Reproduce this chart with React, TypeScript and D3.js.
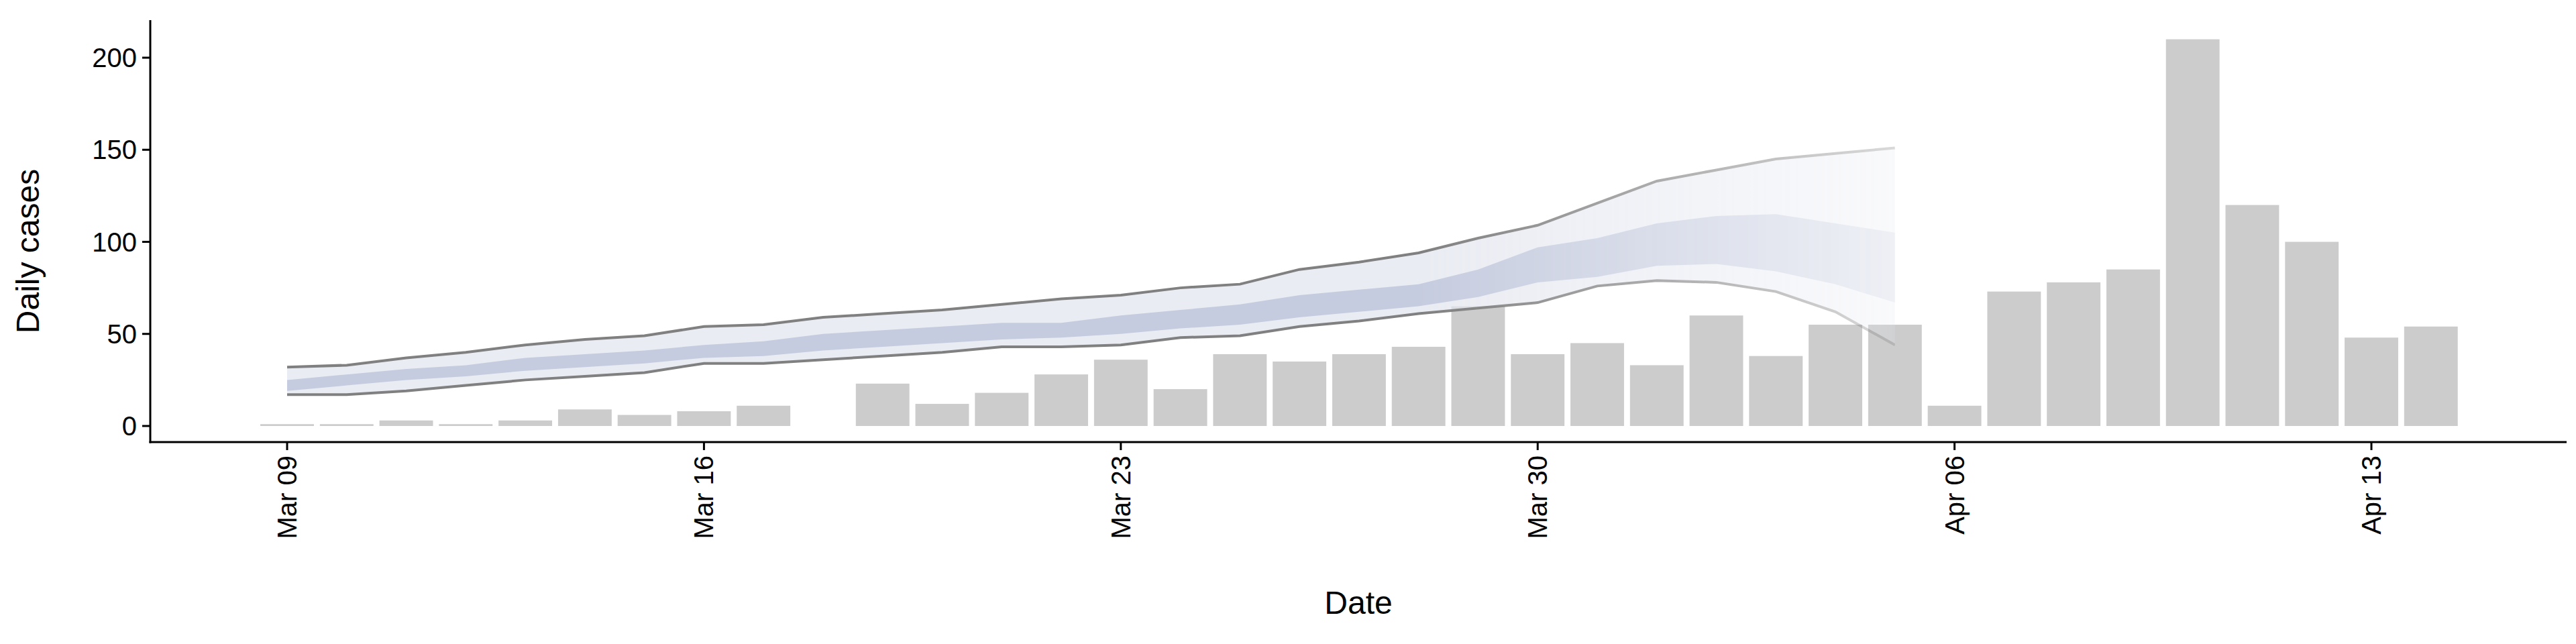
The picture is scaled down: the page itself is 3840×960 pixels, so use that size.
import React from 'react';
import * as d3 from 'd3';

const caseDates = d3.timeDays(new Date(2020, 2, 9), new Date(2020, 3, 15));
const dailyCases = [1, 1, 3, 1, 3, 9, 6, 8, 11, 0, 23, 12, 18, 28, 36, 20, 39, 35, 39, 43, 65, 39, 45, 33, 60, 38, 55, 55, 11, 73, 78, 85, 210, 120, 100, 48, 54];

const bandDates = d3.timeDays(new Date(2020, 2, 9), new Date(2020, 3, 6));
const outerHigh = [32, 33, 37, 40, 44, 47, 49, 54, 55, 59, 61, 63, 66, 69, 71, 75, 77, 85, 89, 94, 102, 109, 121, 133, 139, 145, 148, 151];
const outerLow = [17, 17, 19, 22, 25, 27, 29, 34, 34, 36, 38, 40, 43, 43, 44, 48, 49, 54, 57, 61, 64, 67, 76, 79, 78, 73, 62, 44];
const innerHigh = [25, 28, 31, 33, 37, 39, 41, 44, 46, 50, 52, 54, 56, 56, 60, 63, 66, 71, 74, 77, 85, 97, 102, 110, 114, 115, 110, 105];
const innerLow = [19, 22, 25, 27, 30, 32, 34, 37, 38, 41, 43, 45, 47, 48, 50, 53, 55, 59, 62, 65, 70, 78, 81, 87, 88, 84, 77, 67];

const yTicks = [0, 50, 100, 150, 200];
const xTicks = [new Date(2020, 2, 9), new Date(2020, 2, 16), new Date(2020, 2, 23), new Date(2020, 2, 30), new Date(2020, 3, 6), new Date(2020, 3, 13)];

const W = 3840, H = 960;
const left = 224, right = 3826, top = 30, axisY = 659;

export default function App() {
  const x = d3.scaleTime().domain([new Date(2020, 2, 9), new Date(2020, 3, 13)]).range([428, 3535]);
  const day = x(new Date(2020, 2, 10)) - x(new Date(2020, 2, 9));
  const y = d3.scaleLinear().domain([0, 200]).range([635, 86]);
  const font = "'Liberation Sans', Arial, sans-serif";

  const area = (lo: number[], hi: number[]) =>
    d3.area<Date>().x(d => x(d)).y0((_, i) => y(lo[i])).y1((_, i) => y(hi[i]))(bandDates) || '';
  const line = (v: number[]) => d3.line<Date>().x(d => x(d)).y((_, i) => y(v[i]))(bandDates) || '';
  const fadeStart = (x(new Date(2020, 2, 28)) - x(bandDates[0])) / (x(bandDates[27]) - x(bandDates[0]));

  return (
    <svg width={W} height={H} style={{ display: 'block', position: 'absolute', left: 0, top: 0 }}>
      <defs>
        <linearGradient id="fade" gradientUnits="userSpaceOnUse" x1={x(bandDates[0])} x2={x(bandDates[27])} y1={0} y2={0}>
          <stop offset="0" stopColor="white" stopOpacity={1} />
          <stop offset={fadeStart} stopColor="white" stopOpacity={1} />
          <stop offset="1" stopColor="white" stopOpacity={0.3} />
        </linearGradient>
        <mask id="fm" maskUnits="userSpaceOnUse" x={0} y={0} width={W} height={H}>
          <rect x={x(bandDates[0]) - 5} y={0} width={x(bandDates[27]) - x(bandDates[0]) + 5} height={H} fill="url(#fade)" />
        </mask>
      </defs>
      {caseDates.map((d, i) => (
        <rect key={i} x={x(d) - day * 0.45} width={day * 0.9} y={y(dailyCases[i])}
          height={y(0) - y(dailyCases[i])} fill="#cccccc" />
      ))}
      <g mask="url(#fm)">
        <path d={area(outerLow, outerHigh)} fill="#e3e6ef" fillOpacity={0.75} />
        <path d={area(innerLow, innerHigh)} fill="#b9c1d8" fillOpacity={0.75} />
        <path d={line(outerHigh)} fill="none" stroke="#808080" strokeWidth={4} />
        <path d={line(outerLow)} fill="none" stroke="#808080" strokeWidth={4} />
      </g>
      {/* axes */}
      <line x1={left} x2={left} y1={top} y2={axisY + 1.5} stroke="black" strokeWidth={3} />
      <line x1={left - 1.5} x2={right} y1={axisY} y2={axisY} stroke="black" strokeWidth={3} />
      {yTicks.map(t => (
        <g key={t}>
          <line x1={left - 12} x2={left} y1={y(t)} y2={y(t)} stroke="black" strokeWidth={3} />
          <text x={left - 20} y={y(t)} dy="0.35em" textAnchor="end" fontFamily={font} fontSize={40}>{t}</text>
        </g>
      ))}
      {xTicks.map((t, i) => (
        <g key={i}>
          <line x1={x(t)} x2={x(t)} y1={axisY} y2={axisY + 12} stroke="black" strokeWidth={3} />
          <text transform={`translate(${x(t)},${axisY + 20}) rotate(-90)`} dy="0.35em" textAnchor="end"
            fontFamily={font} fontSize={40}>{d3.timeFormat('%b %d')(t)}</text>
        </g>
      ))}
      <text transform={`translate(58,${(top + axisY) / 2 + 30}) rotate(-90)`} textAnchor="middle" fontFamily={font} fontSize={48}>Daily cases</text>
      <text x={(left + right) / 2} y={915} textAnchor="middle" fontFamily={font} fontSize={48}>Date</text>
    </svg>
  );
}
